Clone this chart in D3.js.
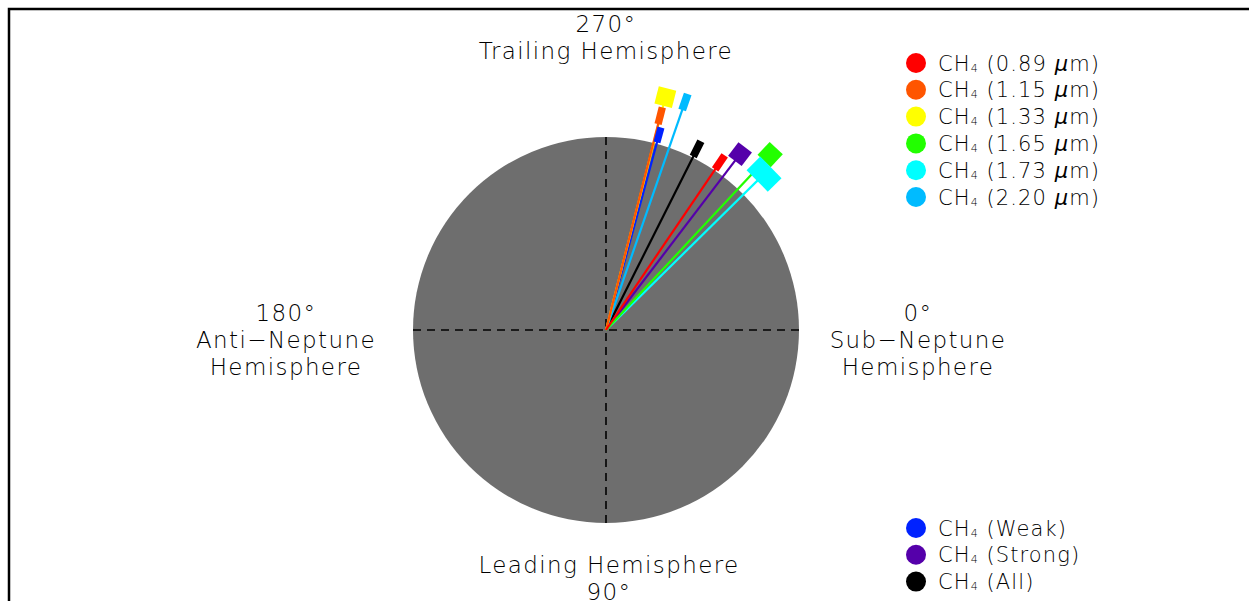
<!DOCTYPE html>
<html>
<head>
<meta charset="utf-8">
<script src="https://cdn.jsdelivr.net/npm/d3@7"></script>
<style>
  html, body { margin: 0; padding: 0; background: #fff; }
  svg { display: block; }
  text { font-family: "DejaVu Sans", sans-serif; font-weight: 200; fill: #000; }
</style>
</head>
<body>
<svg id="chart" width="1249" height="601"></svg>
<script>
// ---- data ----
const seriesNames = ["0.89 μm", "1.15 μm", "1.33 μm", "1.65 μm", "1.73 μm", "2.20 μm", "Weak", "Strong", "All"];
const seriesColors = ["#ff0000", "#ff5500", "#ffff00", "#22ff00", "#00ffff", "#00bbff", "#0022ff", "#5500aa", "#000000"];
// longitude of line (degrees, 0 = sub-Neptune, 90 = leading, 270 = trailing)
const longitudes = [304.2, 284.2, 284.3, 313.1, 315.4, 289.1, 285.2, 307.3, 296.7];
// displayed amplitude (in units of disk radius)
const amplitudes = [1.05, 1.145, 1.245, 1.245, 1.15, 1.25, 1.047, 1.146, 1.05];
// full angular uncertainty (degrees)
const longErr = [2.2, 1.9, 4.3, 4.3, 7.8, 1.9, 2.0, 4.4, 2.2];
// full amplitude uncertainty (disk radius units)
const ampErr = [0.088, 0.09, 0.092, 0.092, 0.10, 0.088, 0.08, 0.088, 0.088];
const topLegend = [0, 1, 2, 3, 4, 5];
const bottomLegend = [6, 7, 8];
const axisLabels = [
  { deg: 270, lines: ["270°", "Trailing Hemisphere"] },
  { deg: 180, lines: ["180°", "Anti−Neptune", "Hemisphere"] },
  { deg: 0,   lines: ["0°", "Sub−Neptune", "Hemisphere"] },
  { deg: 90,  lines: ["Leading Hemisphere", "90°"] }
];

// ---- layout ----
const svg = d3.select("#chart");
const cx = 606, cy = 330, R = 193;
const ang = d3.scaleLinear().domain([0, 360]).range([0, 2 * Math.PI]);
const rad = d3.scaleLinear().domain([0, 1]).range([0, R]);
const px = (deg, r) => cx + rad(r) * Math.cos(ang(deg));
const py = (deg, r) => cy + rad(r) * Math.sin(ang(deg));

// frame
svg.append("rect").attr("x", 9).attr("y", 9).attr("width", 1300).attr("height", 700)
  .attr("fill", "none").attr("stroke", "#000").attr("stroke-width", 2.5);

// disk
svg.append("circle").attr("cx", cx).attr("cy", cy).attr("r", R).attr("fill", "#6e6e6e");

// dashed cross-hairs
[0, 90].forEach(d => {
  svg.append("line")
    .attr("x1", px(d, 1)).attr("y1", py(d, 1))
    .attr("x2", px(d + 180, 1)).attr("y2", py(d + 180, 1))
    .attr("stroke", "#000").attr("stroke-width", 1.6)
    .attr("stroke-dasharray", "8,6");
});

// lines (drawn in reverse order) then markers
const idx = d3.range(seriesNames.length);
const gL = svg.append("g");
idx.slice().reverse().forEach(i => {
  gL.append("line")
    .attr("x1", cx).attr("y1", cy)
    .attr("x2", px(longitudes[i], amplitudes[i])).attr("y2", py(longitudes[i], amplitudes[i]))
    .attr("stroke", seriesColors[i]).attr("stroke-width", 2.2);
});
const gM = svg.append("g");
idx.forEach(i => {
  const d = longitudes[i], a = amplitudes[i];
  const w = rad(a) * ang(longErr[i]);   // perpendicular width
  const h = rad(ampErr[i]);             // length along line
  gM.append("rect")
    .attr("x", -h / 2).attr("y", -w / 2).attr("width", h).attr("height", w)
    .attr("fill", seriesColors[i])
    .attr("transform", `translate(${px(d, a)},${py(d, a)}) rotate(${d})`);
});

// axis labels
const lh = 27;
axisLabels.forEach(lab => {
  let x, y0;
  if (lab.deg === 270) { x = 606; y0 = 32; }
  if (lab.deg === 180) { x = 286; y0 = 321; }
  if (lab.deg === 0)   { x = 918; y0 = 321; }
  if (lab.deg === 90)  { x = 609; y0 = 573; }
  lab.lines.forEach((t, k) => {
    svg.append("text").attr("x", x).attr("y", y0 + k * lh)
      .attr("text-anchor", "middle").attr("font-size", 23)
      .attr("letter-spacing", 1.4).text(t);
  });
});

// legends
function legend(list, y0) {
  list.forEach((i, k) => {
    const y = y0 + k * 26.8;
    svg.append("circle").attr("cx", 916).attr("cy", y).attr("r", 10).attr("fill", seriesColors[i]);
    const t = svg.append("text").attr("x", 938).attr("y", y + 7.5).attr("font-size", 21).attr("letter-spacing", 1.1);
    t.append("tspan").text("CH");
    t.append("tspan").attr("font-size", 11).attr("dy", 1).text("4");
    const name = seriesNames[i];
    if (name.includes("μm")) {
      t.append("tspan").attr("dy", -1).text(" (" + name.replace(" μm", "") + "  ");
      t.append("tspan").attr("font-style", "italic").text("μ");
      t.append("tspan").text("m)");
    } else {
      t.append("tspan").attr("dy", -1).text(" (" + name + ")");
    }
  });
}
legend(topLegend, 63);
legend(bottomLegend, 528);
</script>
</body>
</html>
